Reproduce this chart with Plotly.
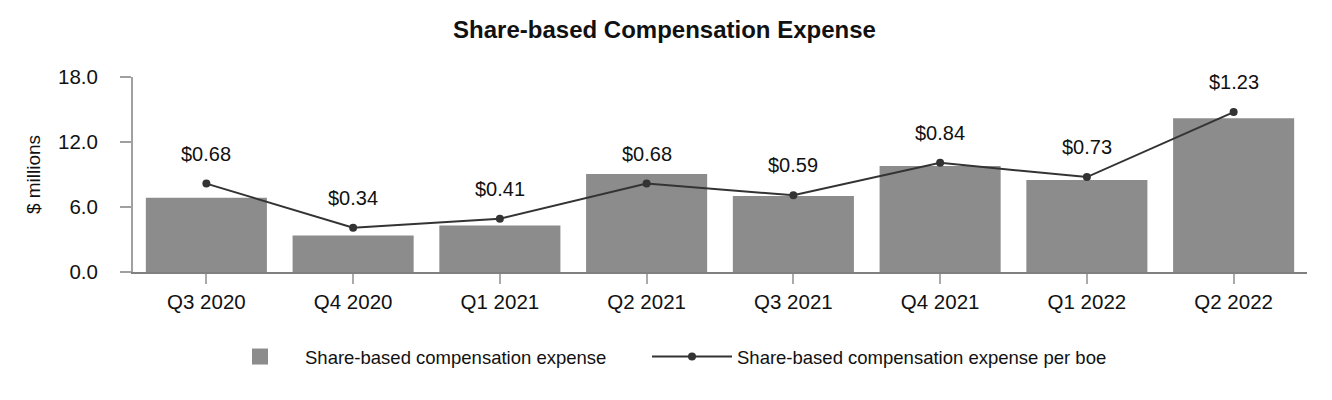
import plotly.graph_objects as go

categories = ["Q3 2020", "Q4 2020", "Q1 2021", "Q2 2021", "Q3 2021", "Q4 2021", "Q1 2022", "Q2 2022"]
expense_millions = [6.86, 3.37, 4.29, 9.04, 7.02, 9.78, 8.49, 14.2]
expense_per_boe = [0.68, 0.34, 0.41, 0.68, 0.59, 0.84, 0.73, 1.23]
y_ticks = [0, 6, 12, 18]

FONT = "Liberation Sans, Arial, sans-serif"
BAR_COLOR = "#8c8c8c"
LINE_COLOR = "#333333"

# page body has an 8px default margin; size the figure to fit the 1332x400 window
W, H = 1324, 392
PLOT_L, PLOT_W = 133, 1174

fig = go.Figure()
fig.add_trace(go.Bar(
    x=categories, y=expense_millions, name="Share-based compensation expense",
    marker=dict(color=BAR_COLOR, line=dict(width=0)), yaxis="y", showlegend=False,
))
# legend proxy for the bar series (larger square swatch)
fig.add_trace(go.Scatter(
    x=[None], y=[None], name="Share-based compensation expense", mode="markers",
    marker=dict(symbol="square", color=BAR_COLOR, size=18), yaxis="y", legend="legend",
))
fig.add_trace(go.Scatter(
    x=categories, y=expense_per_boe, name="Share-based compensation expense per boe",
    mode="lines+markers", line=dict(color=LINE_COLOR, width=2),
    marker=dict(color=LINE_COLOR, size=8), yaxis="y2", legend="legend2",
))

for c, v in zip(categories, expense_per_boe):
    fig.add_annotation(x=c, y=v, yref="y2", text=f"${v:.2f}", showarrow=False,
                       yshift=30, font=dict(size=20, color="#111111", family=FONT))

legend_common = dict(orientation="h", xanchor="left", y=-(357 - 272) / 195, yanchor="middle",
                     font=dict(size=18.5, family=FONT), itemwidth=80, itemsizing="trace",
                     bgcolor="rgba(0,0,0,0)")

fig.update_layout(
    width=W, height=H,
    margin=dict(l=125, r=25, t=69, b=128),
    paper_bgcolor="white", plot_bgcolor="white",
    font=dict(family=FONT, size=20, color="#111111"),
    title=dict(text="<b>Share-based Compensation Expense</b>", x=(664.5 - 8) / W, xanchor="center",
               y=1 - 22 / H, yanchor="middle", font=dict(size=24, family=FONT, color="#111111")),
    bargap=0.175,
    showlegend=True,
    legend=dict(x=(215 - PLOT_L) / PLOT_W, **legend_common),
    legend2=dict(x=(647 - PLOT_L) / PLOT_W, **legend_common),
    xaxis=dict(showline=True, linecolor="#808080", linewidth=2, ticks="outside",
               ticklen=10, tickcolor="#aaaaaa", tickwidth=2, showgrid=False,
               tickfont=dict(size=20.5), automargin=False),
    yaxis=dict(range=[0, 18], tickvals=y_ticks, tickformat=".1f", showline=True,
               linecolor="#a0a0a0", linewidth=2, ticks="outside", ticklen=11,
               tickcolor="#a0a0a0", tickwidth=2, showgrid=False, zeroline=False,
               ticklabelstandoff=18, automargin=False,
               title=dict(text="$ millions", font=dict(size=19), standoff=12),
               tickfont=dict(size=20.5)),
    yaxis2=dict(range=[0, 1.5], overlaying="y", side="right", visible=False,
                showgrid=False, zeroline=False),
)

fig.write_html("out.html")
